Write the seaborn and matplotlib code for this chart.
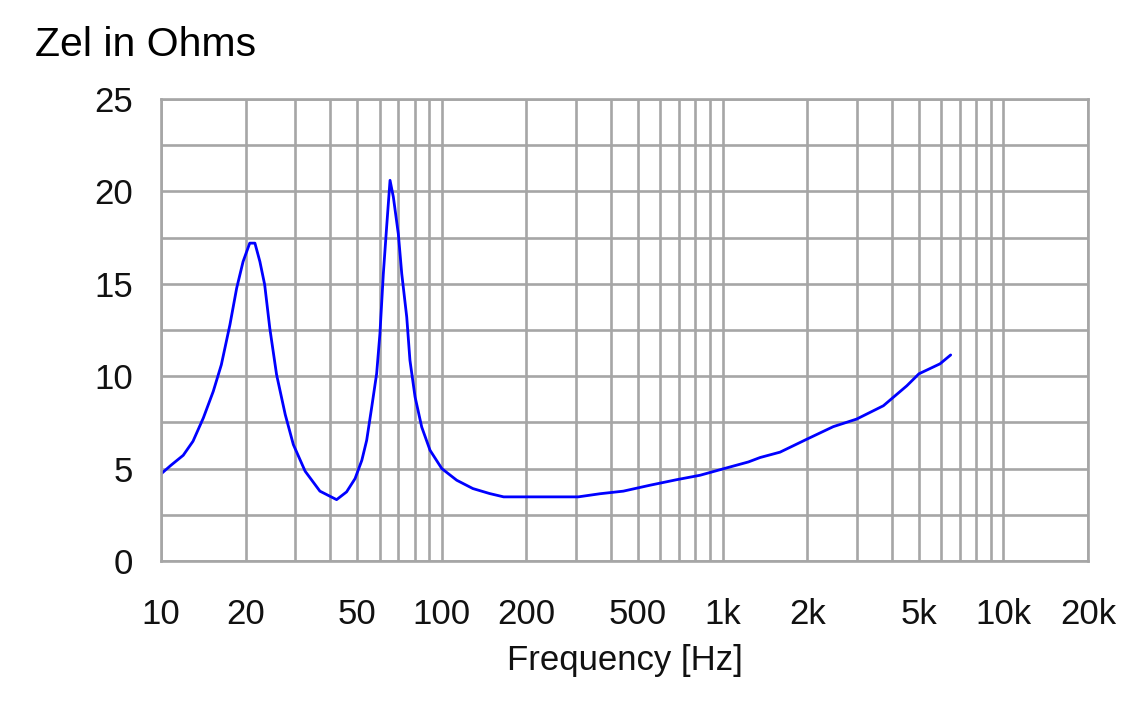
import matplotlib
matplotlib.use("Agg")
import matplotlib.pyplot as plt
import seaborn as sns
import pandas as pd
from matplotlib.ticker import FixedLocator, FixedFormatter, NullFormatter

# ---- data ----
freq_hz = [10, 10.85, 12.0, 13.0, 14.15, 15.35, 16.4, 17.6, 18.6, 19.6, 20.7, 21.6,
           22.5, 23.4, 24.4, 25.8, 27.7, 29.6, 32.6, 36.8, 42.2, 45.8, 49.1, 51.9,
           54.0, 56.3, 58.6, 60.2, 61.9, 63.6, 65.4, 67.2, 70, 72, 75, 77, 80.3,
           84.8, 90.8, 100, 113, 129, 148, 166, 200, 306, 366, 443, 551, 686, 831,
           1034, 1235, 1360, 1601, 2000, 2477, 3000, 3735, 4527, 5000, 5943, 6487]
zel_ohm = [4.71, 5.18, 5.72, 6.48, 7.74, 9.18, 10.62, 12.79, 14.77, 16.2, 17.2, 17.2,
           16.2, 14.95, 12.6, 10.08, 7.92, 6.3, 4.86, 3.78, 3.32, 3.74, 4.46, 5.45,
           6.53, 8.34, 10.14, 12.3, 15.54, 18.07, 20.6, 19.7, 17.7, 15.54, 13.2, 10.86,
           8.88, 7.25, 5.99, 5.0, 4.37, 3.92, 3.65, 3.47, 3.47, 3.47, 3.64, 3.78, 4.1,
           4.4, 4.64, 5.04, 5.36, 5.6, 5.89, 6.6, 7.27, 7.68, 8.4, 9.48, 10.13, 10.67,
           11.15]
x_tick_values = [10, 20, 50, 100, 200, 500, 1000, 2000, 5000, 10000, 20000]
x_tick_labels = ["10", "20", "50", "100", "200", "500", "1k", "2k", "5k", "10k", "20k"]
y_tick_values = [0, 5, 10, 15, 20, 25]
title_text = "Zel in Ohms"
xlabel_text = "Frequency [Hz]"

df = pd.DataFrame({"freq": freq_hz, "zel": zel_ohm})

sns.set_theme(style="white")
plt.rcParams["font.family"] = ["Liberation Sans", "DejaVu Sans"]

fig = plt.figure(figsize=(11.45, 7.11), dpi=100)
ax = fig.add_axes([161 / 1145, 1 - 561 / 711, (1088 - 161) / 1145, (561 - 99) / 711])

sns.lineplot(data=df, x="freq", y="zel", ax=ax, color="#0000ff", linewidth=2.0,
             sort=False, estimator=None)

ax.set_xscale("log")
ax.set_xlim(10, 20000)
ax.set_ylim(0, 25)

# grid lines at every 1..9 x decade
grid_x = []
for dec in [10, 100, 1000, 10000]:
    for m in range(1, 10):
        v = dec * m
        if v <= 20000:
            grid_x.append(v)
grid_x.append(20000)
ax.xaxis.set_major_locator(FixedLocator(x_tick_values))
ax.xaxis.set_major_formatter(FixedFormatter(x_tick_labels))
ax.xaxis.set_minor_locator(FixedLocator([g for g in grid_x if g not in x_tick_values]))
ax.xaxis.set_minor_formatter(NullFormatter())
ax.yaxis.set_major_locator(FixedLocator(y_tick_values))
ax.yaxis.set_minor_locator(FixedLocator([2.5, 7.5, 12.5, 17.5, 22.5]))

gc = "#a6a6a6"
ax.grid(True, which="both", axis="both", color=gc, linewidth=1.9)
ax.set_axisbelow(True)
for s in ax.spines.values():
    s.set_color(gc)
    s.set_linewidth(1.9)

ax.tick_params(axis="both", which="both", length=0)
ax.tick_params(axis="x", pad=27, labelsize=25, labelcolor="#111111")
ax.tick_params(axis="y", pad=20, labelsize=25, labelcolor="#111111")

ax.set_xlabel(xlabel_text, fontsize=25, color="#111111", labelpad=9)
ax.set_ylabel("")

fig.text(35 / 1145, 1 - 45 / 711, title_text, fontsize=29.5, color="black",
         ha="left", va="center")

fig.savefig("out.png", dpi=100)
